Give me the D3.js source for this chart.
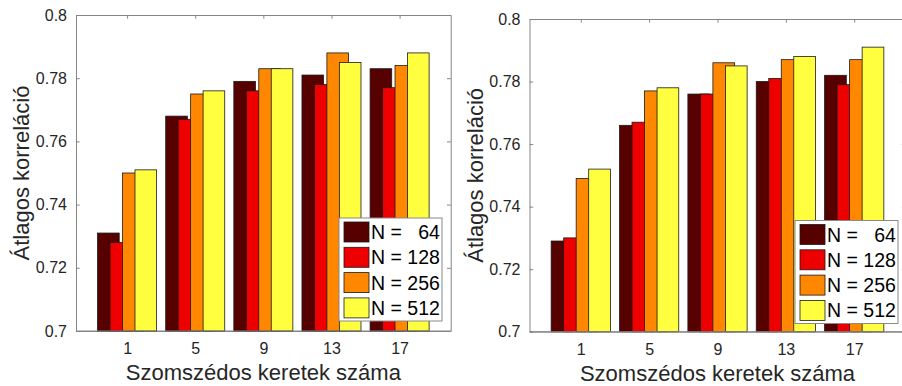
<!DOCTYPE html>
<html>
<head>
<meta charset="utf-8">
<script src="https://cdn.jsdelivr.net/npm/d3@7"></script>
<style>
  body { margin: 0; background: #fff; }
  text { font-family: "Liberation Sans", Arial, sans-serif; }
</style>
</head>
<body>
<div id="chart"></div>
<script>
// data
var categories = [1, 5, 9, 13, 17];
var seriesLabels = ["N =   64", "N = 128", "N = 256", "N = 512"];
var yTicks = [0.7, 0.72, 0.74, 0.76, 0.78, 0.8];

// left panel
var leftN64 = [0.731, 0.768, 0.779, 0.781, 0.783];
var leftN128 = [0.728, 0.767, 0.776, 0.778, 0.777];
var leftN256 = [0.750, 0.775, 0.783, 0.788, 0.784];
var leftN512 = [0.751, 0.776, 0.783, 0.785, 0.788];

// right panel
var rightN64 = [0.729, 0.766, 0.776, 0.780, 0.782];
var rightN128 = [0.730, 0.767, 0.776, 0.781, 0.779];
var rightN256 = [0.749, 0.777, 0.786, 0.787, 0.787];
var rightN512 = [0.752, 0.778, 0.785, 0.788, 0.791];

var colors = ["#560000", "#ee0000", "#ff8800", "#ffff40"];

var svg = d3.select("#chart")
    .append("svg")
    .attr("width", 902)
    .attr("height", 386);

// bar layout in x units (matlab style grouped bars that overlap)
var barStep = 0.732;
var barWidth = 1.27;
var axisColor = "#858585";
var textColor = "#262626";

function drawPanel(box, series) {
    var x = d3.scaleLinear().domain([-2, 20]).range([box.left, box.right]);
    var y = d3.scaleLinear().domain([0.7, 0.8]).range([box.bottom, box.top]);
    var g = svg.append("g");

    // axes first, bars go over the ticks
    var bottomAxis = g.append("g")
        .attr("transform", `translate(0, ${box.bottom})`)
        .call(d3.axisBottom(x).tickValues(categories).tickSize(-3.7).tickSizeOuter(0).tickPadding(9));
    var topAxis = g.append("g")
        .attr("transform", `translate(0, ${box.top})`)
        .call(d3.axisTop(x).tickValues(categories).tickSize(-3.7).tickSizeOuter(0).tickFormat(""));
    var leftAxis = g.append("g")
        .attr("transform", `translate(${box.left}, 0)`)
        .call(d3.axisLeft(y).tickValues(yTicks).tickSize(-3.7).tickSizeOuter(0).tickPadding(9)
            .tickFormat(d => String(+d.toFixed(2))));
    var rightAxis = g.append("g")
        .attr("transform", `translate(${box.right}, 0)`)
        .call(d3.axisRight(y).tickValues(yTicks).tickSize(-3.7).tickSizeOuter(0).tickFormat(""));

    [bottomAxis, topAxis, leftAxis, rightAxis].forEach(function(a) {
        a.selectAll("path, line").attr("stroke", axisColor).attr("stroke-width", 1);
        a.selectAll("text").attr("fill", textColor).style("font-size", "16px")
            .style("font-family", '"Liberation Sans", Arial, sans-serif');
    });
    bottomAxis.selectAll("text").attr("dy", "0.9em");

    // bars, series by series so later ones cover earlier ones
    series.forEach(function(vals, i) {
        g.append("g").selectAll("rect")
            .data(vals)
            .enter()
            .append("rect")
            .attr("x", (d, j) => x(categories[j] + (i - 1.5) * barStep - barWidth / 2))
            .attr("width", x(barWidth) - x(0))
            .attr("y", d => y(d))
            .attr("height", d => y(0.7) - y(d))
            .attr("fill", colors[i])
            .attr("stroke", "#1a1a1a")
            .attr("stroke-width", 0.8);
    });

    // baseline over the bar bottoms
    g.append("line")
        .attr("x1", box.left).attr("x2", box.right)
        .attr("y1", box.bottom).attr("y2", box.bottom)
        .attr("stroke", axisColor);

    // axis titles
    g.append("text")
        .attr("x", (box.left + box.right) / 2)
        .attr("y", box.bottom + 49)
        .attr("text-anchor", "middle")
        .attr("fill", textColor)
        .style("font-size", "22px")
        .text("Szomszédos keretek száma");
    g.append("text")
        .attr("transform", `translate(${box.left - 47}, ${(box.top + box.bottom) / 2}) rotate(-90)`)
        .attr("text-anchor", "middle")
        .attr("fill", textColor)
        .style("font-size", "22px")
        .text("Átlagos korreláció");

    // legend in the lower right corner
    var lw = 103, lh = 103;
    var lx = box.legendRight - lw, ly = box.legendBottom - lh;
    var legend = g.append("g").attr("transform", `translate(${lx}, ${ly})`);
    legend.append("rect")
        .attr("width", lw).attr("height", lh)
        .attr("fill", "#fff")
        .attr("stroke", "#8a8a8a");
    seriesLabels.forEach(function(lab, i) {
        var row = legend.append("g").attr("transform", `translate(0, ${4 + i * 25.3})`);
        row.append("rect")
            .attr("x", 5).attr("y", 0)
            .attr("width", 25).attr("height", 20)
            .attr("fill", colors[i])
            .attr("stroke", "#1a1a1a")
            .attr("stroke-width", 0.8);
        row.append("text")
            .attr("x", 32).attr("y", 17)
            .attr("fill", "#000")
            .style("font-size", "19.5px")
            .style("white-space", "pre")
            .attr("xml:space", "preserve")
            .text(lab);
    });
}

drawPanel({left: 76, right: 450.7, top: 15, bottom: 331, legendRight: 442, legendBottom: 321},
    [leftN64, leftN128, leftN256, leftN512]);
drawPanel({left: 529.5, right: 905.5, top: 19, bottom: 331.7, legendRight: 898, legendBottom: 323.5},
    [rightN64, rightN128, rightN256, rightN512]);
</script>
</body>
</html>
